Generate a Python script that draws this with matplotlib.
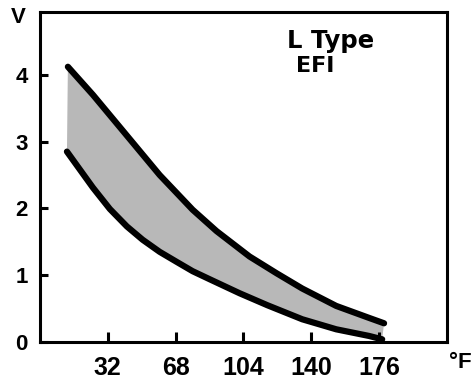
import matplotlib.pyplot as plt

# upper curve (°F, V)
upper_f = [10.8, 24.1, 42.1, 59.5, 77.0, 89.7, 107.2, 121.5, 135.2, 153.2, 170.7, 178.6]
upper_v = [4.12, 3.70, 3.09, 2.50, 1.98, 1.66, 1.28, 1.03, 0.80, 0.54, 0.36, 0.28]
# lower curve
lower_f = [10.3, 17.2, 24.1, 33.1, 42.1, 50.5, 59.5, 68.5, 77.0, 86.0, 101.9, 116.7, 135.2, 153.2, 170.7, 177.6]
lower_v = [2.85, 2.58, 2.31, 1.99, 1.73, 1.53, 1.35, 1.20, 1.06, 0.94, 0.73, 0.55, 0.34, 0.19, 0.09, 0.04]

xticks = [32, 68, 104, 140, 176]
yticks = [0, 1, 2, 3, 4]

num_font = 'Liberation Sans'

fig = plt.figure(figsize=(4.74, 3.81), dpi=100)
ax = fig.add_axes([0.0844, 0.1024, 0.8586, 0.8661])

# shaded band between the two curves
ax.fill(upper_f + lower_f[::-1], upper_v + lower_v[::-1], color='#b8b8b8', lw=0, zorder=1)
ax.plot(upper_f, upper_v, color='black', lw=4.5, solid_capstyle='round', solid_joinstyle='round', zorder=3)
ax.plot(lower_f, lower_v, color='black', lw=4.5, solid_capstyle='round', solid_joinstyle='round', zorder=3)

ax.set_xlim(-4, 212)
ax.set_ylim(0, 4.94)
ax.set_xticks(xticks)
ax.set_yticks(yticks)
ax.set_xticklabels([str(t) for t in xticks], fontsize=18, fontweight='bold', family=num_font)
ax.set_yticklabels([str(t) for t in yticks], fontsize=16, fontweight='bold', family=num_font)
ax.tick_params(axis='x', direction='in', length=7, width=2.2, pad=10)
ax.tick_params(axis='y', direction='in', length=6, width=2.2, pad=9)
for s in ax.spines.values():
    s.set_linewidth(2.2)

fig.text(0.038, 0.940, 'V', fontsize=16, fontweight='bold', family=num_font, ha='center', va='baseline')
fig.text(0.972, 0.034, '°F', fontsize=16, fontweight='bold', family=num_font, ha='center', va='baseline')
fig.text(0.698, 0.874, 'L Type', fontsize=17.5, fontweight='bold', ha='center', va='baseline')
fig.text(0.665, 0.811, 'EFI', fontsize=16, fontweight='bold', ha='center', va='baseline')

fig.savefig('out.png', dpi=100)
